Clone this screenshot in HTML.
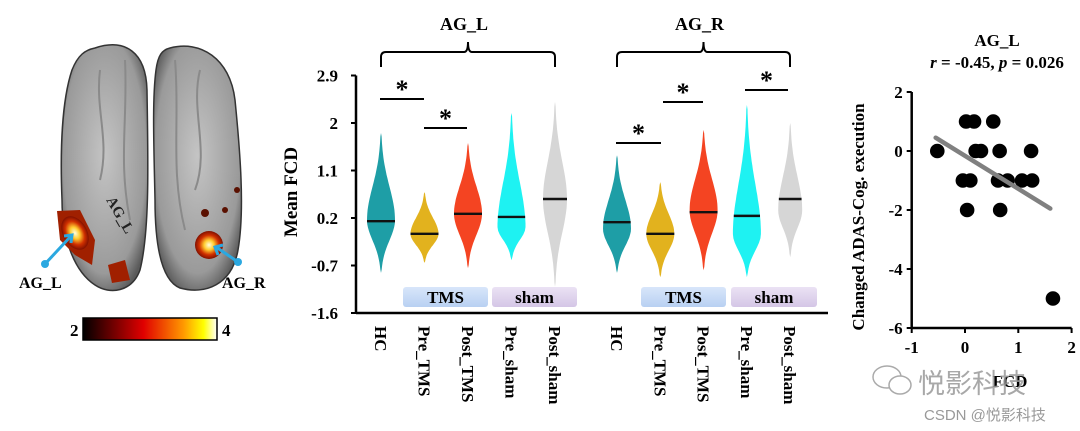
<!DOCTYPE html>
<html><head><meta charset="utf-8">
<style>
html,body{margin:0;padding:0;background:#fff;}
svg{display:block;font-family:"Liberation Serif","Noto Serif CJK SC",serif;}
</style></head>
<body>
<svg id="fig" width="1080" height="431" viewBox="0 0 1080 431" xmlns="http://www.w3.org/2000/svg">
<defs>
 <linearGradient id="cbar" x1="0" x2="1" y1="0" y2="0">
  <stop offset="0" stop-color="#000"/><stop offset="0.45" stop-color="#e00000"/><stop offset="0.75" stop-color="#ff9900"/><stop offset="0.9" stop-color="#ffff00"/><stop offset="1" stop-color="#ffffff"/>
 </linearGradient>
 <radialGradient id="hot"><stop offset="0" stop-color="#ffffe0"/><stop offset="0.35" stop-color="#ffcc30"/><stop offset="0.7" stop-color="#d03000"/><stop offset="1" stop-color="#801000"/></radialGradient>
 <radialGradient id="brainL" cx="0.5" cy="0.45" r="0.6"><stop offset="0" stop-color="#c4c4c4"/><stop offset="0.8" stop-color="#9a9a9a"/><stop offset="1" stop-color="#5a5a5a"/></radialGradient>
 <linearGradient id="tmsg" x1="0" y1="0" x2="0" y2="1"><stop offset="0" stop-color="#d8e6fa"/><stop offset="1" stop-color="#b8d0f2"/></linearGradient>
 <linearGradient id="shamg" x1="0" y1="0" x2="0" y2="1"><stop offset="0" stop-color="#ebe2f4"/><stop offset="1" stop-color="#d4c6e6"/></linearGradient>
</defs>

<g>
 <path d="M95,48 C125,38 146,52 147,90 C148,160 150,230 140,270 C132,292 110,295 95,285 C75,272 62,240 62,200 C60,150 62,100 72,70 C78,55 85,50 95,48 Z" fill="url(#brainL)" stroke="#333" stroke-width="1.5"/>
 <path d="M170,48 C200,40 230,58 235,100 C240,150 245,210 238,250 C232,285 205,295 180,288 C160,280 155,240 155,200 C154,150 152,100 156,70 C158,55 162,50 170,48 Z" fill="url(#brainL)" stroke="#333" stroke-width="1.5"/>
 <path d="M100,70 C95,110 110,140 100,180 M125,60 C128,120 118,160 130,220 M200,70 C190,110 210,150 195,190 M175,60 C180,120 170,170 185,230" stroke="#8a8a8a" stroke-width="2" fill="none"/>
 <path d="M57,211 L80,210 L95,240 L92,265 L75,255 L60,240 Z" fill="#a02000"/>
 <ellipse cx="75" cy="233" rx="12" ry="18" fill="url(#hot)" transform="rotate(-30 75 233)"/>
 <path d="M108,265 L125,260 L130,280 L112,283 Z" fill="#a02000"/>
 <circle cx="209" cy="245" r="14" fill="url(#hot)"/>
 <circle cx="205" cy="213" r="4" fill="#5a1000"/><circle cx="225" cy="210" r="3" fill="#5a1000"/><circle cx="237" cy="190" r="3" fill="#5a1000"/>
 <text x="106" y="200" font-size="15" font-weight="bold" fill="#222" transform="rotate(60 106 200)">AG_L</text>
 <line x1="45" y1="264" x2="71" y2="236" stroke="#2ba8e0" stroke-width="3"/><circle cx="45" cy="264" r="4" fill="#2ba8e0"/>
 <path d="M64,236 L72,235 L71,243" stroke="#2ba8e0" stroke-width="3" fill="none"/>
 <line x1="238" y1="262" x2="216" y2="247" stroke="#2ba8e0" stroke-width="3"/><circle cx="238" cy="262" r="4" fill="#2ba8e0"/>
 <path d="M218,255 L215,247 L223,245" stroke="#2ba8e0" stroke-width="3" fill="none"/>
 <text x="19" y="288" font-size="16" font-weight="bold">AG_L</text>
 <text x="222" y="288" font-size="16" font-weight="bold">AG_R</text>
 <rect x="83" y="318" width="134" height="22" fill="url(#cbar)" stroke="#000" stroke-width="1.5"/>
 <text x="70" y="336" font-size="17" font-weight="bold">2</text>
 <text x="222" y="336" font-size="17" font-weight="bold">4</text>
</g>

<g id="violin"></g>
<g id="scatter"></g>

<g fill="#999">
 <ellipse cx="887" cy="377" rx="14" ry="11" fill="none" stroke="#aaa" stroke-width="1.5"/>
 <ellipse cx="900" cy="385" rx="11" ry="9" fill="#fff" stroke="#aaa" stroke-width="1.5"/>
 <text x="918" y="393" font-size="27" font-family="Liberation Sans, Noto Sans CJK SC, sans-serif" fill="#999" fill-opacity="0.85">悦影科技</text>
 <text x="924" y="420" font-size="15" font-family="Liberation Sans, Noto Sans CJK SC, sans-serif" fill="#999">CSDN @悦影科技</text>
</g>
</svg>

<script>
var NS="http://www.w3.org/2000/svg";
function mk(parent,tag,attrs,txt){var e=document.createElementNS(NS,tag);for(var k in attrs)e.setAttribute(k,attrs[k]);if(txt!==undefined)e.textContent=txt;parent.appendChild(e);return e;}

// ---------- Violin data ----------
var vCategories=["HC","Pre_TMS","Post_TMS","Pre_sham","Post_sham","HC","Pre_TMS","Post_TMS","Pre_sham","Post_sham"];
var vMedians=[0.14,-0.10,0.28,0.22,0.56,0.12,-0.10,0.31,0.24,0.56];
var vTops=[1.81,0.69,1.62,2.19,2.40,1.39,0.88,1.87,2.34,2.00];
var vBottoms=[-0.84,-0.65,-0.75,-0.60,-1.10,-0.84,-0.92,-0.79,-0.92,-0.54];
var vModes=[0.16,-0.10,0.28,0.03,0.56,0.00,-0.10,0.35,-0.10,0.35];
var vColors=["#1e9ea6","#e2b21e","#f44422","#1ef2f2","#d6d6d6","#1e9ea6","#e2b21e","#f44422","#1ef2f2","#d6d6d6"];
var yTicks=[2.9,2,1.1,0.2,-0.7,-1.6];

var V=document.getElementById('violin');
var AX=356,AY0=313,PPU=52.78;
function vy(v){return AY0-(v+1.6)*PPU;}
function vx(i){return i<5?381+i*43.5:617+(i-5)*43.3;}

var yAxis=mk(V,'line',{x1:AX,y1:vy(2.9),x2:AX,y2:AY0,stroke:'#000','stroke-width':2.5});


var xAxis=mk(V,'line',{x1:AX,y1:AY0,x2:828,y2:AY0,stroke:'#000','stroke-width':2.5});


yTicks.forEach(function(t){
 mk(V,'line',{x1:AX-5,y1:vy(t),x2:AX,y2:vy(t),stroke:'#000','stroke-width':2});
 var tl=mk(V,'text',{x:AX-18,y:vy(t)+6,'font-size':17,'font-weight':'bold','text-anchor':'end'},String(t));
 
 
});
var yt=mk(V,'text',{x:0,y:0,'font-size':19,'font-weight':'bold','text-anchor':'middle',transform:'translate(297,192) rotate(-90)'},'Mean FCD');



var boxes=[["TMS",403,488,"url(#tmsg)"],["sham",492,577,"url(#shamg)"],["TMS",641,726,"url(#tmsg)"],["sham",731,817,"url(#shamg)"]];
boxes.forEach(function(b){
 var r=mk(V,'rect',{x:b[1],y:287,width:b[2]-b[1],height:20,rx:3,fill:b[3]});
 
 
 var t=mk(V,'text',{x:(b[1]+b[2])/2,y:303,'font-size':17,'font-weight':'bold','text-anchor':'middle'},b[0]);
 
 
});

vCategories.forEach(function(c,i){
 var cx=vx(i),hw=(i==4||i==9)?12:14;
 var top=vTops[i],bot=vBottoms[i],mode=vModes[i];
 var su=(top-mode)/2.6,sd=(mode-bot)/2.6;
 var right=[],left=[],N=40;
 for(var k=0;k<=N;k++){
  var v=bot+(top-bot)*k/N;
  var s=v>mode?su:sd;
  var w=hw*Math.exp(-Math.pow((v-mode)/s,2)/2);
  if(k==0||k==N)w=0;
  right.push((cx+w).toFixed(1)+','+vy(v).toFixed(1));
  left.unshift((cx-w).toFixed(1)+','+vy(v).toFixed(1));
 }
 var p=mk(V,'path',{d:'M'+right.join(' L')+' L'+left.join(' L')+' Z',fill:vColors[i]});
 
 
 var med=vMedians[i];
 var mw=hw*Math.exp(-Math.pow((med-mode)/((med>mode)?su:sd),2)/2);
 var ml=mk(V,'line',{x1:cx-mw,y1:vy(med),x2:cx+mw,y2:vy(med),stroke:'#111','stroke-width':2.4});
 
 
 var lt=mk(V,'text',{x:0,y:0,'font-size':17,'font-weight':'bold',transform:'translate('+(cx-6)+',326) rotate(90)'},c);
 
 
});

[["AG_L",381,555],["AG_R",617,790]].forEach(function(b){
 var m=(b[1]+b[2])/2;
 var br=mk(V,'path',{d:'M'+b[1]+',67 L'+b[1]+',57 Q'+b[1]+',52 '+(b[1]+5)+',52 L'+(m-4)+',52 Q'+m+',52 '+m+',42 Q'+m+',52 '+(m+4)+',52 L'+(b[2]-5)+',52 Q'+b[2]+',52 '+b[2]+',57 L'+b[2]+',67',fill:'none',stroke:'#000','stroke-width':2});
 
 
 var t=mk(V,'text',{x:m-4,y:30,'font-size':18,'font-weight':'bold','text-anchor':'middle'},b[0]);
 
 
});

var sigs=[[380,424,99],[424,467,128],[616,661,143],[663,703,102],[745,788,90]];
sigs.forEach(function(s){
 var l=mk(V,'line',{x1:s[0],y1:s[2],x2:s[1],y2:s[2],stroke:'#000','stroke-width':2});
 
 
 var t=mk(V,'text',{x:(s[0]+s[1])/2,y:s[2]-1,'font-size':26,'font-weight':'bold','text-anchor':'middle'},'*');
 
 
});

// ---------- Scatter data ----------
var sX=[-0.52,0.02,0.17,0.53,0.20,0.30,0.65,1.24,-0.04,0.10,0.62,0.80,1.07,1.26,0.04,0.66,1.65];
var sY=[0,1,1,1,0,0,0,0,-1,-1,-1,-1,-1,-1,-2,-2,-5];
var fitX=[-0.55,1.6];
var fitY=[0.45,-1.95];
var sxTicks=[-1,0,1,2];
var syTicks=[2,0,-2,-4,-6];

var S=document.getElementById('scatter');
function sx(v){return 965+v*53.3;}
function sy(v){return 92+(2-v)*29.5;}
var say=mk(S,'line',{x1:sx(-1),y1:sy(2),x2:sx(-1),y2:sy(-6),stroke:'#000','stroke-width':2.5});


var sax=mk(S,'line',{x1:sx(-1),y1:sy(-6),x2:sx(2),y2:sy(-6),stroke:'#000','stroke-width':2.5});


syTicks.forEach(function(t){
 mk(S,'line',{x1:sx(-1)-5,y1:sy(t),x2:sx(-1),y2:sy(t),stroke:'#000','stroke-width':2});
 var tl=mk(S,'text',{x:sx(-1)-9,y:sy(t)+6,'font-size':17,'font-weight':'bold','text-anchor':'end'},String(t));
 
 
});
sxTicks.forEach(function(t){
 mk(S,'line',{x1:sx(t),y1:sy(-6),x2:sx(t),y2:sy(-6)+5,stroke:'#000','stroke-width':2});
 var tl=mk(S,'text',{x:sx(t),y:sy(-6)+25,'font-size':17,'font-weight':'bold','text-anchor':'middle'},String(t));
 
 
});
sX.forEach(function(x,i){
 var c=mk(S,'circle',{cx:sx(x),cy:sy(sY[i]),r:7.3,fill:'#000'});
 
 
});
var fl=mk(S,'line',{x1:sx(fitX[0]),y1:sy(fitY[0]),x2:sx(fitX[1]),y2:sy(fitY[1]),stroke:'#808080','stroke-width':4.5,'stroke-linecap':'round'});


var st=mk(S,'text',{x:997,y:46,'font-size':17,'font-weight':'bold','text-anchor':'middle'},'AG_L');


var ss=mk(S,'text',{x:997,y:68,'font-size':17,'font-weight':'bold','text-anchor':'middle'});


mk(ss,'tspan',{'font-style':'italic'},'r');
mk(ss,'tspan',{},' = -0.45, ');
mk(ss,'tspan',{'font-style':'italic'},'p');
mk(ss,'tspan',{},' = 0.026');
var syl=mk(S,'text',{x:0,y:0,'font-size':17,'font-weight':'bold','text-anchor':'middle',transform:'translate(864,217) rotate(-90)'},'Changed ADAS-Cog. execution');


var sxl=mk(S,'text',{x:1010,y:387,'font-size':17,'font-weight':'bold','text-anchor':'middle'},'FCD');


</script>
</body></html>
